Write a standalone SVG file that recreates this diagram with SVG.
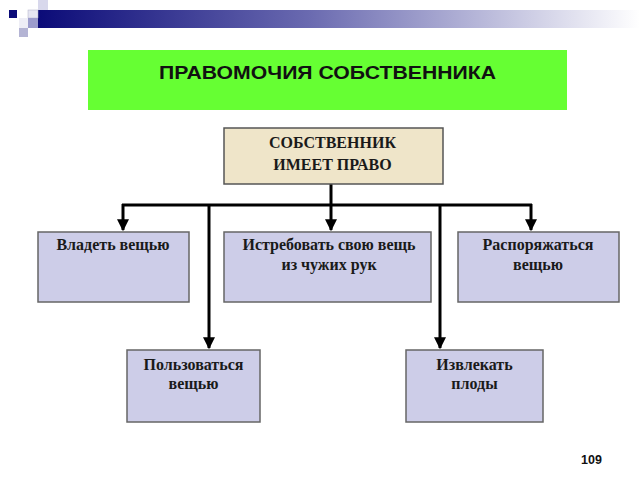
<svg xmlns="http://www.w3.org/2000/svg" width="640" height="480" viewBox="0 0 640 480">
<defs>
<linearGradient id="bar" x1="0" y1="0" x2="1" y2="0">
<stop offset="0" stop-color="#0b0b78"/>
<stop offset="0.45" stop-color="#6a6ab0"/>
<stop offset="1" stop-color="#ffffff"/>
</linearGradient>
<marker id="arr" viewBox="0 0 10 10" refX="9" refY="5" markerWidth="4.5" markerHeight="4" markerUnits="strokeWidth" orient="auto">
<path d="M0,0 L10,5 L0,10 z" fill="#000"/>
</marker>
<style>
.box{fill:#cdcde8;stroke:#666;stroke-width:1.5}
.t{font-family:"Liberation Serif","Times New Roman",serif;font-weight:bold;font-size:16px;fill:#1a1a1a;text-anchor:middle}
.c{fill:none;stroke:#000;stroke-width:3}
</style>
</defs>
<g id="decor">
<rect x="38" y="10" width="602" height="18" fill="url(#bar)"/>
<rect x="9" y="10" width="8" height="8" fill="#0b0b78"/>
<rect x="38" y="0" width="10" height="10" fill="#d8d8ec"/>
<rect x="28" y="10" width="10" height="8" fill="#e6e6f2" stroke="#b0b0c8" stroke-width="0.5"/>
<rect x="28" y="18" width="10" height="10" fill="#9c9ccc"/>
<rect x="19" y="18" width="9" height="10" fill="#eeeef6"/>
<rect x="19" y="28" width="9" height="9" fill="#b4b4d4"/>
</g>
<g id="title">
<rect x="88" y="50" width="479" height="60" fill="#66ff33"/>
<text x="327.5" y="78.5" font-family="Liberation Sans, Arial, sans-serif" font-weight="bold" font-size="19" text-anchor="middle" fill="#111" textLength="337" lengthAdjust="spacingAndGlyphs">ПРАВОМОЧИЯ СОБСТВЕННИКА</text>
</g>
<g id="connectors">
<polyline class="c" points="331,184 331,205"/>
<polyline class="c" points="122,205 532,205"/>
<line class="c" x1="123" y1="204" x2="123" y2="230" marker-end="url(#arr)"/>
<line class="c" x1="331" y1="204" x2="331" y2="230" marker-end="url(#arr)"/>
<line class="c" x1="531" y1="204" x2="531" y2="230" marker-end="url(#arr)"/>
<line class="c" x1="209" y1="204" x2="209" y2="348" marker-end="url(#arr)"/>
<line class="c" x1="440" y1="204" x2="440" y2="348" marker-end="url(#arr)"/>
</g>
<g id="owner">
<rect x="224" y="128" width="219" height="56" fill="#efe5c9" stroke="#555" stroke-width="1.5"/>
<text class="t" x="332.5" y="148" font-size="19">СОБСТВЕННИК</text>
<text class="t" x="332.5" y="170" font-size="19">ИМЕЕТ ПРАВО</text>
</g>
<g id="own">
<rect class="box" x="38" y="232" width="151" height="70"/>
<text class="t" x="113" y="250">Владеть вещью</text>
</g>
<g id="reclaim">
<rect class="box" x="224" y="232" width="207" height="70"/>
<text class="t" x="329" y="250">Истребовать свою вещь</text>
<text class="t" x="329" y="270">из чужих рук</text>
</g>
<g id="dispose">
<rect class="box" x="458" y="232" width="161" height="70"/>
<text class="t" x="538" y="250">Распоряжаться</text>
<text class="t" x="538" y="270">вещью</text>
</g>
<g id="use">
<rect class="box" x="127" y="350" width="133" height="72"/>
<text class="t" x="193.5" y="369.5">Пользоваться</text>
<text class="t" x="193.5" y="388.5">вещью</text>
</g>
<g id="fruits">
<rect class="box" x="406" y="350" width="137" height="72"/>
<text class="t" x="474.5" y="369.5">Извлекать</text>
<text class="t" x="474.5" y="388.5">плоды</text>
</g>
<text x="591.5" y="464" font-family="Liberation Sans, Arial, sans-serif" font-weight="bold" font-size="12.5" text-anchor="middle" fill="#111">109</text>
</svg>
